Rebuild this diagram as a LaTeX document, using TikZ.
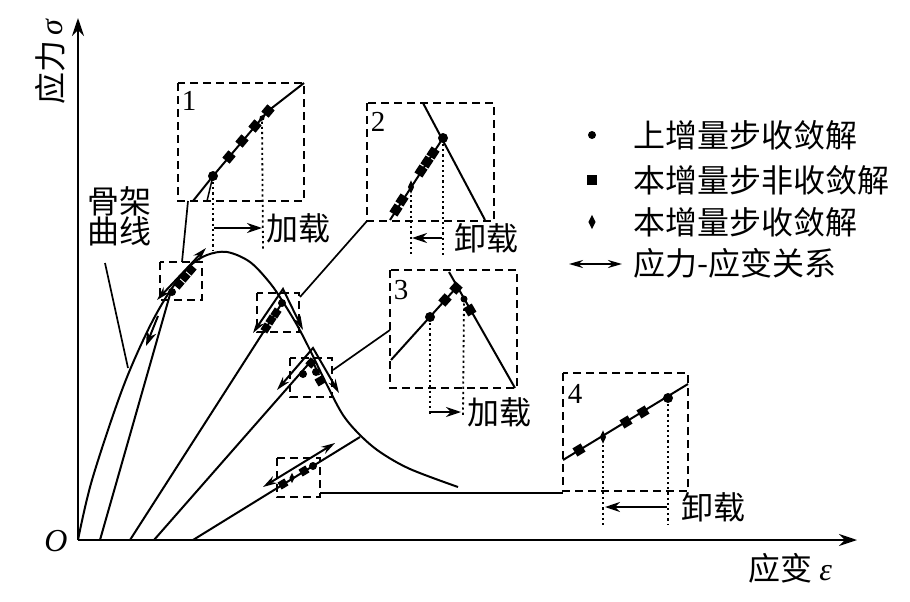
\documentclass[tikz,border=0pt]{standalone}
\usepackage{fontspec}
\setmainfont{Liberation Serif}
\newfontfamily\cjk{Noto Sans CJK SC}
\usetikzlibrary{arrows.meta,shapes.geometric}
\begin{document}
\begin{tikzpicture}[x=1pt, y=-1pt, line width=2pt,
  box/.style={draw, line width=1.8pt, dash pattern=on 8pt off 5pt},
  guide/.style={line width=1.8pt, dash pattern=on 2.2pt off 3pt},
  lead/.style={line width=1.7pt},
  sol/.style={circle, fill, inner sep=0pt, minimum size=10pt},
  trial/.style={rectangle, fill, inner sep=0pt, minimum size=9.5pt},
  conv/.style={diamond, fill, inner sep=0pt, minimum width=7pt, minimum height=14pt},
  tip/.style={-{Stealth[length=15pt,width=10pt]}},
  both/.style={{Stealth[length=14pt,width=8pt]}-{Stealth[length=14pt,width=8pt]}},
  txt/.style={font=\cjk\fontsize{32}{32}\selectfont, inner sep=0pt},
  num/.style={font=\fontsize{29}{29}\selectfont, inner sep=0pt}]
\useasboundingbox (0,0) rectangle (910,602);
% axes
\coordinate (O) at (78,540);
\coordinate (xend) at (857,540);
\coordinate (yend) at (78,18);
\draw[-{Stealth[length=18pt,width=12pt]}] (O) -- (xend);
\draw[-{Stealth[length=18pt,width=12pt]}] (O) -- (yend);
\node[font=\fontsize{32}{32}\selectfont\itshape, inner sep=0pt] (olab) at (56,541) {O};
\node[txt, rotate=90] (ylab) at (50,62) {应力{\rmfamily\itshape\,σ}};
\node[txt] (xlab) at (790,568) {应变\ {\rmfamily\itshape ε}};
% skeleton curve and paths
\draw plot[smooth, tension=0.55] coordinates {(78,540) (92,480) (122,390) (148,330) (170,291) (190,266) (207,255) (227,252) (250,262) (270,283) (283,302) (297,325) (310,350) (327,385) (343,415) (360,435) (380,452) (410,469) (458,487)};
\coordinate (s1) at (100,540);
\coordinate (s2) at (130,540);
\coordinate (s3) at (154,540);
\coordinate (s4) at (193,540);
\draw (s1) -- (171,291);
\draw (s2) -- (282,303);
\draw (s3) -- (312,360) -- (319,375);
\draw (s4) -- (360,437);
\node[txt, align=left] (gj) at (119,216) {骨架\\[-2pt]曲线};
\draw[lead] (105,263) -- (128,368);
% small boxes
\draw[box] (160,262) rectangle (202,300);
\draw[box] (257,293) rectangle (299,332);
\draw[box] (290,358) rectangle (332,397);
\draw[box] (277,458) rectangle (320,497);
\draw[both] (157,300) -- (206,248);
\draw[tip] (158,316) -- (146,346);
\draw[both] (253,333) -- (283,289) -- (303,330);
\draw[both] (277,390) -- (313,348) -- (339,393);
\draw[both] (263,487) -- (335,443);
\node[sol, minimum size=8pt] (a1) at (172,292) {};
\node[trial, minimum size=8pt, rotate=50] (a2) at (179,284) {};
\node[trial, minimum size=8pt, rotate=50] (a3) at (185,277) {};
\node[trial, minimum size=8pt, rotate=50] (a4) at (191,270) {};
\node[sol, minimum size=8pt] (b1) at (282,303) {};
\node[trial, minimum size=8pt, rotate=57] (b2) at (276,313) {};
\node[trial, minimum size=8pt, rotate=57] (b3) at (271,320) {};
\node[trial, minimum size=8pt, rotate=57] (b4) at (266,328) {};
\node[sol, minimum size=8pt] (c1) at (303,374) {};
\node[trial, minimum size=8pt, rotate=48] (c2) at (311,363) {};
\node[sol, minimum size=8pt] (c3) at (316,372) {};
\node[trial, minimum size=8pt, rotate=30] (c4) at (320,381) {};
\node[trial, minimum size=8pt, rotate=31] (d1) at (283,484) {};
\node[conv, minimum height=11pt, minimum width=6pt] (d2) at (292,478) {};
\node[trial, minimum size=8pt, rotate=31] (d3) at (304,471) {};
\node[sol, minimum size=8pt] (d4) at (313,466) {};
% leaders
\draw[lead] (182,262) -- (188,201);
\draw[lead] (300,297) -- (367,221);
\draw[lead] (333,370) -- (390,330);
\draw[lead] (320,493) -- (563,493);
% box 1
\draw[box] (178,83) rectangle (304,201);
\node[num] (n1) at (189,101) {1};
\draw (193,201) -- (213,176) -- (268,111) -- (304,83);
\draw[line width=1.5pt] (213,176) -- (207,201);
\node[sol] (p1) at (213,176) {};
\node[trial, rotate=50] (p2) at (229,157) {};
\node[trial, rotate=50] (p3) at (242,141) {};
\node[trial, rotate=50] (p4) at (255,126) {};
\node[conv, minimum height=11pt, minimum width=6pt, rotate=-40] (p5) at (262,118) {};
\node[trial, rotate=50] (p6) at (268,111) {};
\draw[guide] (p1) -- (213,250);
\draw[guide] (p5) -- (263,250);
\draw[tip] (214,228) -- (262,228);
\node[txt, anchor=west] (l1) at (265,228) {加载};
% box 2
\draw[box] (367,103) rectangle (494,221);
\node[num] (n2) at (378,122) {2};
\draw (423,103) -- (485,220);
\draw (443,138) -- (390,220);
\node[sol] (q1) at (443,138) {};
\node[trial, rotate=57] (q2) at (433,153) {};
\node[trial, rotate=57] (q3) at (427,162) {};
\node[trial, rotate=57] (q4) at (421,171) {};
\node[conv] (q5) at (411,187) {};
\node[trial, rotate=57] (q6) at (402,200) {};
\node[trial, rotate=57] (q7) at (396,210) {};
\draw[guide] (q5) -- (411,257);
\draw[guide] (q1) -- (443,257);
\draw[tip] (442,238) -- (412,238);
\node[txt, anchor=west] (l2) at (453,238) {卸载};
% box 3
\draw[box] (390,270) rectangle (517,388);
\node[num] (n3) at (401,290) {3};
\draw (391,360) -- (456,288);
\draw (449,272) -- (515,388);
\node[sol] (r1) at (430,317) {};
\node[trial, rotate=48] (r2) at (445,300) {};
\node[trial, rotate=48] (r3) at (456,288) {};
\node[sol, minimum size=7pt] (r4) at (464,299) {};
\node[trial, rotate=30] (r5) at (470,310) {};
\draw[guide] (r1) -- (430,415);
\draw[guide] (r4) -- (463,415);
\draw[tip] (431,412) -- (461,412);
\node[txt, anchor=west] (l3) at (466,412) {加载};
% box 4
\draw[box] (563,373) rectangle (688,491);
\node[num] (n4) at (575,394) {4};
\draw (563,460) -- (688,384);
\node[trial, rotate=31] (t1) at (579,450) {};
\node[conv] (t2) at (603,437) {};
\node[trial, rotate=31] (t3) at (626,422) {};
\node[trial, rotate=31] (t4) at (643,412) {};
\node[sol] (t5) at (668,398) {};
\draw[guide] (t2) -- (603,525);
\draw[guide] (t5) -- (668,525);
\draw[tip] (667,507) -- (605,507);
\node[txt, anchor=west] (l4) at (680,507) {卸载};
% legend
\node[sol, minimum size=8pt] (k1) at (592,135) {};
\node[txt, anchor=west] (k1t) at (632,135) {上增量步收敛解};
\node[trial] (k2) at (592,180) {};
\node[txt, anchor=west] (k2t) at (632,180) {本增量步非收敛解};
\node[conv, minimum height=15pt, minimum width=8pt] (k3) at (592,222) {};
\node[txt, anchor=west] (k3t) at (632,222) {本增量步收敛解};
\coordinate (k4a) at (569,264);
\coordinate (k4b) at (622,264);
\draw[both] (k4a) -- (k4b);
\node[txt, anchor=west] (k4t) at (632,263) {应力-应变关系};
\end{tikzpicture}
\end{document}
